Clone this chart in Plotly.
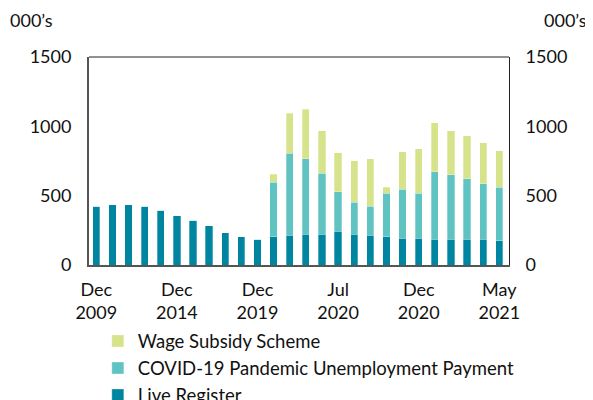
import plotly.graph_objects as go

# categories: annual Dec 2009 - Dec 2019, then monthly Mar 2020 - May 2021
periods = ["Dec 2009", "Dec 2010", "Dec 2011", "Dec 2012", "Dec 2013", "Dec 2014",
           "Dec 2015", "Dec 2016", "Dec 2017", "Dec 2018", "Dec 2019",
           "Mar 2020", "Apr 2020", "May 2020", "Jun 2020", "Jul 2020", "Aug 2020",
           "Sep 2020", "Oct 2020", "Nov 2020", "Dec 2020", "Jan 2021", "Feb 2021",
           "Mar 2021", "Apr 2021", "May 2021"]

live_register = [424, 434, 434, 424, 395, 357, 321, 283, 233, 204, 185,
                 204, 216, 223, 223, 245, 223, 216, 204, 194, 194, 187, 187, 187, 187, 175]

pup = [0] * 11 + [393, 589, 544, 439, 285, 230, 208, 314, 353, 324, 487, 465, 436, 400, 386]

wage_subsidy = [0] * 11 + [57, 291, 355, 307, 278, 298, 343, 41, 271, 319, 352, 317, 310, 295, 264]

tick_vals = ["Dec 2009", "Dec 2014", "Dec 2019", "Jul 2020", "Dec 2020", "May 2021"]
tick_text = ["Dec<br>2009", "Dec<br>2014", "Dec<br>2019", "Jul<br>2020", "Dec<br>2020", "May<br>2021"]

y_ticks = [0, 500, 1000, 1500]

font = "Lato, 'Open Sans', sans-serif"
edge = dict(color="rgba(255,255,255,0.6)", width=0.5)

fig = go.Figure()

fig.add_trace(go.Bar(x=periods, y=live_register, name="Live Register",
                     marker=dict(color="#0085A1", line=edge)))
fig.add_trace(go.Bar(x=periods, y=pup, name="COVID-19 Pandemic Unemployment Payment",
                     marker=dict(color="#5FC4C1", line=edge)))
fig.add_trace(go.Bar(x=periods, y=wage_subsidy, name="Wage Subsidy Scheme",
                     marker=dict(color="#D6E38A", line=edge)))

# invisible trace to carry the right axis
fig.add_trace(go.Scatter(x=[periods[0]], y=[0], yaxis="y2", showlegend=False,
                         hoverinfo="skip", mode="markers", marker=dict(opacity=0)))

# the page body has an 8px offset, so margins are shifted to compensate
fig.update_layout(
    width=593, height=400,
    margin=dict(l=81, r=92, t=49, b=143, autoexpand=False),
    barmode="stack",
    bargap=0.55,
    plot_bgcolor="white",
    paper_bgcolor="white",
    font=dict(family=font, size=18, color="#111"),
    xaxis=dict(type="category", tickmode="array", tickvals=tick_vals, ticktext=tick_text,
               range=[-0.45, 25.6],
               showline=True, linecolor="#555", linewidth=2, ticks="", showgrid=False,
               automargin=False, ticklabelstandoff=7, tickfont=dict(size=18)),
    yaxis=dict(range=[0, 1500], tickvals=y_ticks, showgrid=False, zeroline=False,
               showline=True, linecolor="#555", linewidth=2, ticks="", automargin=False,
               ticklabelstandoff=12, tickfont=dict(size=18)),
    yaxis2=dict(range=[0, 1500], tickvals=y_ticks, overlaying="y", side="right",
                showgrid=False, zeroline=False, showline=True, linecolor="#222",
                linewidth=1, ticks="", automargin=False, ticklabelstandoff=12,
                tickfont=dict(size=18)),
    legend=dict(x=0.021, y=-0.276, xanchor="left", yanchor="top", traceorder="reversed",
                font=dict(size=18.5), tracegroupgap=0, itemwidth=30,
                bgcolor="rgba(0,0,0,0)"),
    shapes=[dict(type="line", xref="paper", yref="paper", x0=0, x1=1, y0=1, y1=1,
                 line=dict(color="#222", width=1))],
    annotations=[
        dict(text="000\u2019s", xref="paper", yref="paper", x=-0.193, y=1.178,
             xanchor="left", yanchor="middle", showarrow=False, font=dict(size=18)),
        dict(text="000\u2019s", xref="paper", yref="paper", x=1.078, y=1.178,
             xanchor="left", yanchor="middle", showarrow=False, font=dict(size=18)),
    ],
)

fig.write_html("out.html")
